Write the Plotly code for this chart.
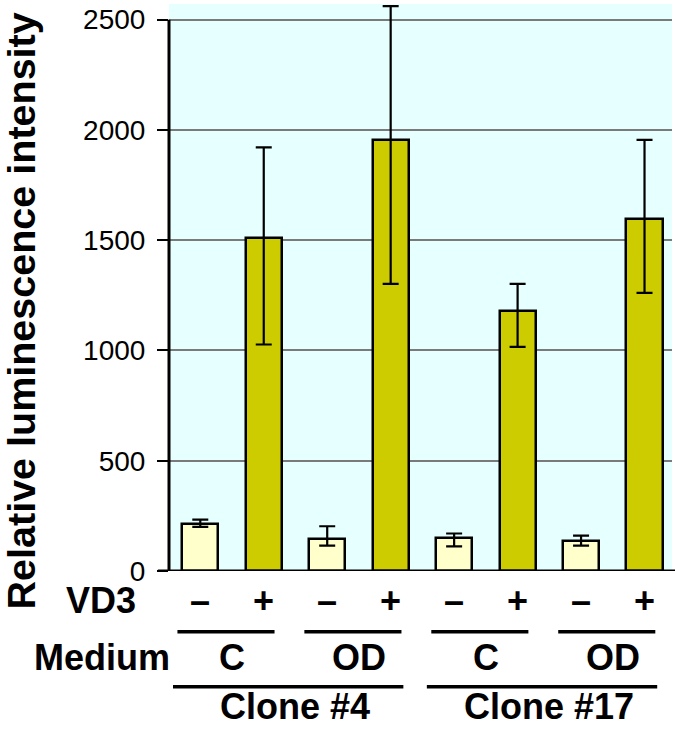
import plotly.graph_objects as go

# ---- data ----
vd3 = ["–", "+", "–", "+", "–", "+", "–", "+"]
means = [215, 1512, 147, 1954, 151, 1179, 138, 1594]
err_plus = [18, 409, 56, 607, 19, 123, 22, 361]
err_minus = [15, 485, 32, 652, 39, 163, 23, 333]
medium = ["C", "OD", "C", "OD"]
clones = ["Clone #4", "Clone #17"]
yticks = [0, 500, 1000, 1500, 2000, 2500]

FONT = "Liberation Sans, Arial, Helvetica, sans-serif"
colors = ["#FFFFCC" if s == "–" else "#CCCC00" for s in vd3]
xs = list(range(len(means)))

fig = go.Figure()
fig.add_trace(go.Bar(
    x=xs, y=means, width=0.57,
    marker=dict(color=colors, line=dict(color="black", width=2.5)),
    error_y=dict(type="data", symmetric=False, array=err_plus, arrayminus=err_minus,
                 color="black", thickness=2.2, width=8),
    showlegend=False,
))

ann = []
# y title
ann.append(dict(text="<b>Relative luminescence intensity</b>", xref="paper", yref="paper",
                x=-0.294, y=0.458, textangle=-90, showarrow=False,
                font=dict(size=39.5, family=FONT, color="black"),
                xanchor="center", yanchor="middle"))
# row labels
ann.append(dict(text="<b>VD3</b>", xref="paper", yref="paper", x=-0.135, y=-0.052,
                showarrow=False, font=dict(size=36, family=FONT, color="black"),
                xanchor="center", yanchor="middle"))
ann.append(dict(text="<b>Medium</b>", xref="paper", yref="paper", x=-0.133, y=-0.153,
                showarrow=False, font=dict(size=36, family=FONT, color="black"),
                xanchor="center", yanchor="middle"))
for i, s in enumerate(vd3):
    ann.append(dict(text="<b>%s</b>" % s, xref="x", yref="paper", x=i, y=-0.052,
                    showarrow=False, font=dict(size=36, family=FONT, color="black"),
                    xanchor="center", yanchor="middle"))
for k, m in enumerate(medium):
    ann.append(dict(text="<b>%s</b>" % m, xref="x", yref="paper", x=2 * k + 0.5, y=-0.153,
                    showarrow=False, font=dict(size=36, family=FONT, color="black"),
                    xanchor="center", yanchor="middle"))
for j, c in enumerate(clones):
    ann.append(dict(text="<b>%s</b>" % c, xref="x", yref="paper", x=4 * j + 1.5, y=-0.2395,
                    showarrow=False, font=dict(size=36, family=FONT, color="black"),
                    xanchor="center", yanchor="middle"))

shapes = []
for k in range(len(medium)):
    shapes.append(dict(type="line", xref="x", yref="paper", x0=2 * k - 0.36, x1=2 * k + 1.17,
                       y0=-0.107, y1=-0.107, line=dict(color="black", width=3.5)))
for j in range(len(clones)):
    shapes.append(dict(type="line", xref="x", yref="paper", x0=4 * j - 0.43, x1=4 * j + 3.2,
                       y0=-0.204, y1=-0.204, line=dict(color="black", width=3.5)))
# axis lines
shapes.append(dict(type="line", xref="paper", yref="y", x0=0, x1=0, y0=0, y1=yticks[-1],
                   line=dict(color="black", width=3)))
shapes.append(dict(type="line", xref="paper", yref="y", x0=-0.022, x1=1.006, y0=0, y1=0,
                   line=dict(color="black", width=3)))

fig.update_layout(
    width=675, height=729,
    margin=dict(l=169, r=3, t=4, b=158),
    paper_bgcolor="white", plot_bgcolor="#E6FFFF",
    font=dict(family=FONT, color="black"),
    xaxis=dict(range=[-0.493, 7.433], showticklabels=False, showgrid=False,
               zeroline=False, showline=False, ticks=""),
    yaxis=dict(range=[0, 2571], tickvals=yticks, ticks="outside", ticklen=11,
               tickwidth=2, tickcolor="black", showline=False, zeroline=False,
               ticklabelstandoff=6, automargin=False,
               gridcolor="#7a7a7a", gridwidth=1.5, tickfont=dict(size=28, family=FONT)),
    annotations=ann, shapes=shapes, bargap=0,
)

fig.write_html("out.html", config={"displayModeBar": False},
               post_script="document.body.style.margin='0';document.body.style.overflow='hidden';")
